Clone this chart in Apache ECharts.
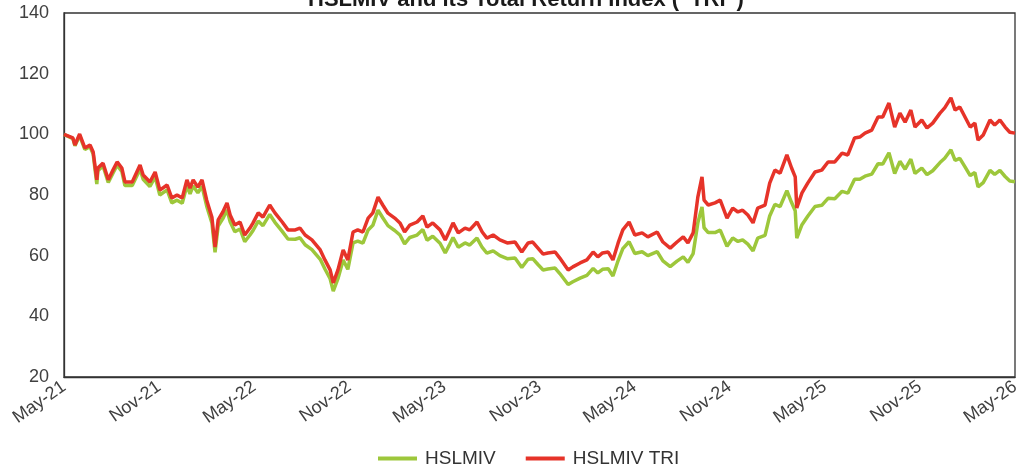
<!DOCTYPE html>
<html>
<head>
<meta charset="utf-8">
<title>HSLMIV and its Total Return Index</title>
<script src="https://cdn.jsdelivr.net/npm/echarts@6.0.0/dist/echarts.min.js"></script>
<style>
	html, body { margin: 0; padding: 0; background: #fff; }
	#main { width: 1029px; height: 465px; }
</style>
</head>
<body>
<div id="main"></div>
<script type="text/javascript">
// x tick labels (every 6 months)
var tickLabels = ['May-21','Nov-21','May-22','Nov-22','May-23','Nov-23','May-24','Nov-24','May-25','Nov-25','May-26'];

var dates = [
	'2021-05-01','2021-05-18','2021-05-22','2021-05-31','2021-06-10','2021-06-20','2021-06-26','2021-07-03','2021-07-05','2021-07-15',
	'2021-07-25','2021-08-03','2021-08-11','2021-08-20','2021-08-26','2021-09-09','2021-09-24','2021-09-30','2021-10-13','2021-10-23',
	'2021-11-01','2021-11-15','2021-11-24','2021-12-04','2021-12-14','2021-12-23','2021-12-29','2022-01-04','2022-01-13','2022-01-21',
	'2022-01-30','2022-02-09','2022-02-15','2022-02-21','2022-03-02','2022-03-10','2022-03-16','2022-03-25','2022-04-04','2022-04-13',
	'2022-04-23','2022-04-29','2022-05-09','2022-05-18','2022-05-31','2022-06-10','2022-06-24','2022-07-05','2022-07-19','2022-07-28',
	'2022-08-07','2022-08-20','2022-09-05','2022-09-14','2022-09-24','2022-09-30','2022-10-09','2022-10-19','2022-10-28','2022-11-07',
	'2022-11-16','2022-11-26','2022-12-06','2022-12-15','2022-12-25','2023-01-03','2023-01-13','2023-01-26','2023-02-05','2023-02-14',
	'2023-02-24','2023-03-10','2023-03-21','2023-03-29','2023-04-09','2023-04-23','2023-05-03','2023-05-12','2023-05-18','2023-05-28',
	'2023-06-10','2023-06-19','2023-07-03','2023-07-13','2023-07-22','2023-08-03','2023-08-16','2023-08-30','2023-09-14','2023-09-27',
	'2023-10-09','2023-10-18','2023-10-28','2023-11-07','2023-11-16','2023-11-30','2023-12-09','2023-12-25','2024-01-03','2024-01-17',
	'2024-01-30','2024-02-11','2024-02-20','2024-02-29','2024-03-11','2024-03-20','2024-03-30','2024-04-08','2024-04-20','2024-05-01',
	'2024-05-15','2024-05-26','2024-06-13','2024-06-24','2024-07-08','2024-07-21','2024-08-02','2024-08-11','2024-08-21','2024-08-30',
	'2024-09-07','2024-09-11','2024-09-19','2024-10-02','2024-10-12','2024-10-25','2024-11-05','2024-11-15','2024-11-24','2024-12-04',
	'2024-12-14','2024-12-23','2025-01-06','2025-01-15','2025-01-25','2025-02-04','2025-02-17','2025-02-26','2025-03-05','2025-03-08',
	'2025-03-18','2025-03-29','2025-04-12','2025-04-25','2025-05-07','2025-05-20','2025-06-03','2025-06-14','2025-06-27','2025-07-07',
	'2025-07-17','2025-07-30','2025-08-11','2025-08-20','2025-09-01','2025-09-12','2025-09-22','2025-10-02','2025-10-13','2025-10-21',
	'2025-11-03','2025-11-13','2025-11-24','2025-12-08','2025-12-17','2025-12-29','2026-01-06','2026-01-15','2026-01-25','2026-02-04',
	'2026-02-13','2026-02-19','2026-03-01','2026-03-14','2026-03-23','2026-04-02','2026-04-12','2026-04-21','2026-05-01'
];

// HSLMIV price index
var hslmiv = [
	100.0, 98.6, 96.2, 99.6, 95.0, 95.9, 93.5, 83.6, 88.0, 89.6,
	84.1, 87.2, 89.8, 87.8, 83.1, 83.1, 88.5, 85.2, 82.8, 86.0,
	80.0, 81.7, 77.4, 78.3, 77.3, 83.1, 80.4, 83.0, 80.7, 82.9,
	76.3, 70.8, 61.1, 69.8, 72.2, 75.1, 71.2, 67.9, 68.8, 64.6,
	66.8, 68.3, 71.4, 69.9, 73.6, 71.0, 68.0, 65.5, 65.4, 65.9,
	63.6, 62.0, 58.8, 55.6, 52.4, 48.3, 52.4, 58.6, 55.5, 64.2,
	64.8, 64.1, 68.5, 70.0, 75.0, 72.5, 69.9, 68.3, 66.8, 63.9,
	66.0, 66.8, 68.6, 65.1, 66.4, 64.1, 60.9, 63.9, 66.0, 62.8,
	64.2, 63.5, 65.8, 62.7, 60.8, 61.6, 60.0, 59.0, 59.2, 56.1,
	58.8, 59.0, 57.1, 55.3, 55.6, 55.9, 54.1, 50.5, 51.4, 52.6,
	53.5, 55.8, 54.3, 55.5, 55.7, 53.3, 58.4, 62.3, 64.6, 60.7,
	61.3, 60.0, 61.3, 58.3, 56.4, 58.2, 59.6, 57.8, 60.7, 70.8,
	76.1, 69.2, 67.6, 67.6, 68.4, 63.1, 65.8, 64.7, 65.2, 63.8,
	61.6, 65.8, 66.7, 73.1, 76.9, 76.2, 81.4, 77.5, 74.8, 65.8,
	70.2, 73.0, 76.2, 76.6, 78.9, 78.8, 81.2, 80.6, 85.2, 85.2,
	86.2, 86.9, 90.3, 90.2, 93.9, 87.1, 91.1, 88.5, 91.8, 87.1,
	88.9, 86.7, 88.0, 90.7, 92.1, 94.9, 91.4, 92.1, 89.3, 86.4,
	87.4, 82.7, 84.1, 88.1, 86.8, 88.1, 86.1, 84.6, 84.4
];

// HSLMIV Total Return Index
var hslmivTri = [
	100.0, 98.8, 96.5, 100.1, 95.5, 96.5, 94.2, 85.0, 88.9, 90.5,
	85.0, 88.2, 90.9, 88.9, 84.3, 84.3, 89.9, 86.6, 84.3, 87.6,
	81.6, 83.3, 79.0, 80.0, 79.0, 85.0, 82.3, 85.0, 82.6, 85.0,
	78.3, 72.7, 62.8, 71.8, 74.4, 77.4, 73.4, 70.1, 71.1, 66.8,
	69.1, 70.8, 74.1, 72.7, 76.7, 74.1, 71.1, 68.5, 68.5, 69.1,
	66.8, 65.2, 61.9, 58.6, 55.3, 51.0, 55.3, 61.9, 58.6, 67.8,
	68.5, 67.8, 72.4, 74.1, 79.3, 76.7, 74.0, 72.4, 70.8, 67.8,
	70.1, 71.1, 73.1, 69.4, 70.8, 68.5, 65.2, 68.5, 70.8, 67.5,
	69.1, 68.5, 71.1, 67.8, 65.8, 66.8, 65.2, 64.2, 64.5, 61.2,
	64.2, 64.5, 62.5, 60.5, 60.9, 61.2, 59.2, 55.3, 56.3, 57.6,
	58.6, 61.2, 59.6, 60.9, 61.2, 58.6, 64.2, 68.5, 71.1, 66.8,
	67.5, 66.2, 67.8, 64.5, 62.5, 64.5, 66.2, 64.2, 67.5, 79.3,
	86.0, 78.3, 76.7, 77.4, 78.3, 72.4, 75.7, 74.4, 75.0, 73.4,
	70.8, 75.7, 76.7, 83.9, 88.2, 87.2, 93.2, 88.9, 86.0, 75.7,
	80.7, 83.9, 87.6, 88.2, 90.9, 90.9, 93.8, 93.2, 98.8, 99.1,
	100.4, 101.4, 105.7, 105.7, 110.3, 102.4, 107.0, 104.0, 108.0, 102.4,
	104.7, 102.1, 103.7, 107.0, 108.7, 112.0, 108.0, 109.0, 105.7, 102.4,
	103.7, 98.1, 99.8, 104.7, 103.1, 104.7, 102.4, 100.7, 100.4
];

var fontFam = 'Liberation Sans, Arial, sans-serif';

function pairs(vals) {
	return dates.map(function (d, i) { return [d, vals[i]]; });
}

var myChart = echarts.init(document.getElementById('main'));
var option = {
	animation: false,
	backgroundColor: '#fff',
	title: {
		text: 'HSLMIV and its Total Return Index (\u201cTRI\u201d)',
		left: 303,
		top: -16,
		textStyle: { fontFamily: fontFam, fontSize: 22, fontWeight: 'bold', color: '#1a1a1a' }
	},
	legend: {
		left: 373,
		top: 444,
		icon: 'rect',
		itemWidth: 39,
		itemHeight: 4,
		itemGap: 30,
		textStyle: { fontFamily: fontFam, fontSize: 19, color: '#333', padding: [0, 0, 0, 3] },
		data: ['HSLMIV', 'HSLMIV TRI']
	},
	grid: {
		left: 64,
		right: 14,
		top: 13,
		bottom: 88,
		show: true,
		borderColor: '#333',
		borderWidth: 1.3,
		outerBoundsMode: 'none'
	},
	xAxis: [
		{
			type: 'time',
			min: '2021-05-01',
			max: '2026-05-01',
			axisLine: { show: true, lineStyle: { color: '#333', width: 1.3 } },
			axisTick: { show: false },
			axisLabel: { show: false },
			splitLine: { show: false }
		},
		{
			type: 'category',
			position: 'bottom',
			boundaryGap: false,
			data: tickLabels,
			axisLine: { show: false },
			axisTick: { show: false },
			splitLine: { show: false },
			axisLabel: {
				interval: 0,
				rotate: 35,
				margin: 8,
				fontFamily: fontFam,
				fontSize: 18,
				color: '#404040'
			}
		}
	],
	yAxis: {
		type: 'value',
		min: 20,
		max: 140,
		interval: 20,
		axisLine: { show: true, lineStyle: { color: '#333', width: 1.3 } },
		axisTick: { show: false },
		splitLine: { show: false },
		axisLabel: { margin: 15, fontFamily: fontFam, fontSize: 18, color: '#404040' }
	},
	series: [
		{
			name: 'HSLMIV',
			type: 'line',
			xAxisIndex: 0,
			data: pairs(hslmiv),
			showSymbol: false,
			lineStyle: { color: '#9DC73B', width: 3.5 },
			itemStyle: { color: '#9DC73B' }
		},
		{
			name: 'HSLMIV TRI',
			type: 'line',
			xAxisIndex: 0,
			data: pairs(hslmivTri),
			showSymbol: false,
			lineStyle: { color: '#E63329', width: 3.5 },
			itemStyle: { color: '#E63329' }
		}
	]
};
myChart.setOption(option);
</script>
</body>
</html>
